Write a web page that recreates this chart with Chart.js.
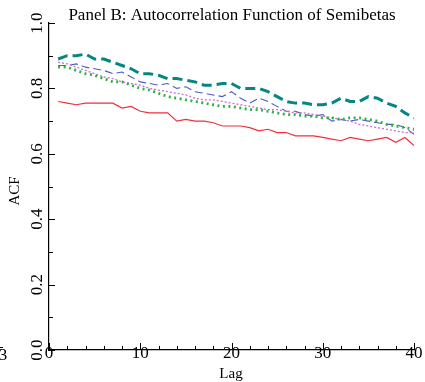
<!DOCTYPE html>
<html>
<head>
<meta charset="utf-8">
<script src="https://cdn.jsdelivr.net/npm/chart.js@4"></script>
<style>
  html, body { margin: 0; padding: 0; background: #fff; }
  #wrap { width: 425px; height: 382px; }
</style>
</head>
<body>
<div id="wrap"><canvas id="acf"></canvas></div>
<script>
// lags 1..40
const lags = Array.from({length: 40}, (_, i) => i + 1);

const acfTeal = [0.890, 0.900, 0.900, 0.905, 0.890, 0.890, 0.880, 0.870, 0.860, 0.845,
                 0.845, 0.840, 0.830, 0.830, 0.825, 0.820, 0.810, 0.810, 0.815, 0.815,
                 0.800, 0.800, 0.800, 0.790, 0.775, 0.760, 0.755, 0.755, 0.750, 0.750,
                 0.755, 0.770, 0.760, 0.760, 0.775, 0.770, 0.755, 0.745, 0.725, 0.710];
const acfBlue = [0.870, 0.870, 0.875, 0.865, 0.860, 0.855, 0.845, 0.850, 0.835, 0.820,
                 0.815, 0.810, 0.815, 0.800, 0.805, 0.790, 0.785, 0.780, 0.775, 0.790,
                 0.770, 0.755, 0.770, 0.760, 0.745, 0.730, 0.730, 0.720, 0.715, 0.720,
                 0.700, 0.705, 0.700, 0.705, 0.700, 0.695, 0.690, 0.690, 0.680, 0.660];
const acfPink = [0.880, 0.875, 0.865, 0.855, 0.845, 0.835, 0.830, 0.820, 0.815, 0.810,
                 0.800, 0.795, 0.790, 0.785, 0.780, 0.770, 0.765, 0.765, 0.760, 0.755,
                 0.750, 0.745, 0.740, 0.735, 0.735, 0.730, 0.725, 0.725, 0.720, 0.715,
                 0.710, 0.705, 0.700, 0.690, 0.685, 0.680, 0.675, 0.670, 0.665, 0.665];
const acfGreen = [0.865, 0.865, 0.855, 0.845, 0.840, 0.830, 0.820, 0.820, 0.810, 0.800,
                  0.795, 0.785, 0.775, 0.770, 0.765, 0.760, 0.755, 0.750, 0.745, 0.745,
                  0.740, 0.735, 0.735, 0.730, 0.725, 0.720, 0.720, 0.715, 0.715, 0.710,
                  0.710, 0.705, 0.710, 0.710, 0.705, 0.700, 0.690, 0.685, 0.680, 0.675];
const acfRed = [0.760, 0.755, 0.750, 0.755, 0.755, 0.755, 0.755, 0.740, 0.745, 0.730,
                0.725, 0.725, 0.725, 0.700, 0.705, 0.700, 0.700, 0.695, 0.685, 0.685,
                0.685, 0.680, 0.670, 0.675, 0.665, 0.665, 0.655, 0.655, 0.655, 0.650,
                0.645, 0.640, 0.650, 0.645, 0.640, 0.645, 0.650, 0.635, 0.650, 0.625];

const xTicks = [0, 10, 20, 30, 40];
const yTicks = [0.0, 0.2, 0.4, 0.6, 0.8, 1.0];

const serif = '"Liberation Serif", "DejaVu Serif", serif';

function pts(vals) {
  return lags.map((l, i) => ({x: l, y: vals[i]}));
}

function serie(vals, color, width, dash) {
  return {
    data: pts(vals),
    borderColor: color,
    borderWidth: width,
    borderDash: dash,
    pointRadius: 0,
    tension: 0,
    fill: false
  };
}

// ticks hacia dentro + etiquetas giradas, como en el original
const axisDecor = {
  id: 'axisDecor',
  afterDraw(chart) {
    const ctx = chart.ctx;
    const xs = chart.scales.x, ys = chart.scales.y;
    const area = chart.chartArea;
    ctx.save();
    ctx.strokeStyle = '#000';
    ctx.lineWidth = 1;
    ctx.beginPath();
    for (let v = 0; v <= 40; v += 2) {
      const px = Math.round(xs.getPixelForValue(v)) + 0.5;
      const len = v % 10 === 0 ? 7 : 4;
      ctx.moveTo(px, area.bottom);
      ctx.lineTo(px, area.bottom - len);
    }
    for (let i = 0; i <= 10; i++) {
      const v = i / 10;
      const py = Math.round(ys.getPixelForValue(v)) + 0.5;
      const len = i % 2 === 0 ? 6 : 4;
      ctx.moveTo(area.left, py);
      ctx.lineTo(area.left + len, py);
    }
    // resto del panel vecino
    ctx.moveTo(0, 347.5);
    ctx.lineTo(3, 347.5);
    ctx.stroke();

    ctx.fillStyle = '#000';
    ctx.font = '17px ' + serif;
    ctx.textAlign = 'center';
    ctx.textBaseline = 'middle';
    xTicks.forEach(v => {
      ctx.fillText(String(v), xs.getPixelForValue(v), 354);
    });
    ctx.fillText('3', 3, 356);

    yTicks.forEach(v => {
      ctx.save();
      ctx.translate(38, ys.getPixelForValue(v));
      ctx.rotate(-Math.PI / 2);
      ctx.fillText(v.toFixed(1), 0, 0);
      ctx.restore();
    });

    ctx.font = '15px ' + serif;
    ctx.fillText('Lag', 231, 374);
    ctx.save();
    ctx.translate(15, 191);
    ctx.rotate(-Math.PI / 2);
    ctx.fillText('ACF', 0, 0);
    ctx.restore();

    ctx.font = '17px ' + serif;
    ctx.textBaseline = 'alphabetic';
    ctx.fillText('Panel B: Autocorrelation Function of Semibetas', 232, 20);
    ctx.restore();
  }
};

new Chart(document.getElementById('acf'), {
  type: 'line',
  data: {
    datasets: [
      serie(acfRed, '#f0303c', 1.2, []),
      serie(acfGreen, '#2db343', 2.8, [2, 3.5]),
      serie(acfPink, '#d36ad3', 1.3, [2, 2]),
      serie(acfBlue, '#4a5cc0', 1.1, [8, 4]),
      serie(acfTeal, '#068683', 3, [10, 5])
    ]
  },
  options: {
    responsive: true,
    maintainAspectRatio: false,
    animation: false,
    layout: { padding: { top: 23, right: 11, left: 0, bottom: 0 } },
    plugins: { legend: { display: false }, title: { display: false }, tooltip: { enabled: false } },
    scales: {
      x: {
        type: 'linear', min: 0, max: 40,
        grid: { display: false },
        border: { display: true, color: '#000', width: 1.2 },
        ticks: { display: false },
        afterFit(s) { s.height = 32; }
      },
      y: {
        min: 0, max: 1,
        grid: { display: false },
        border: { display: true, color: '#000', width: 1.2 },
        ticks: { display: false },
        afterFit(s) { s.width = 49; }
      }
    }
  },
  plugins: [axisDecor]
});
</script>
</body>
</html>
